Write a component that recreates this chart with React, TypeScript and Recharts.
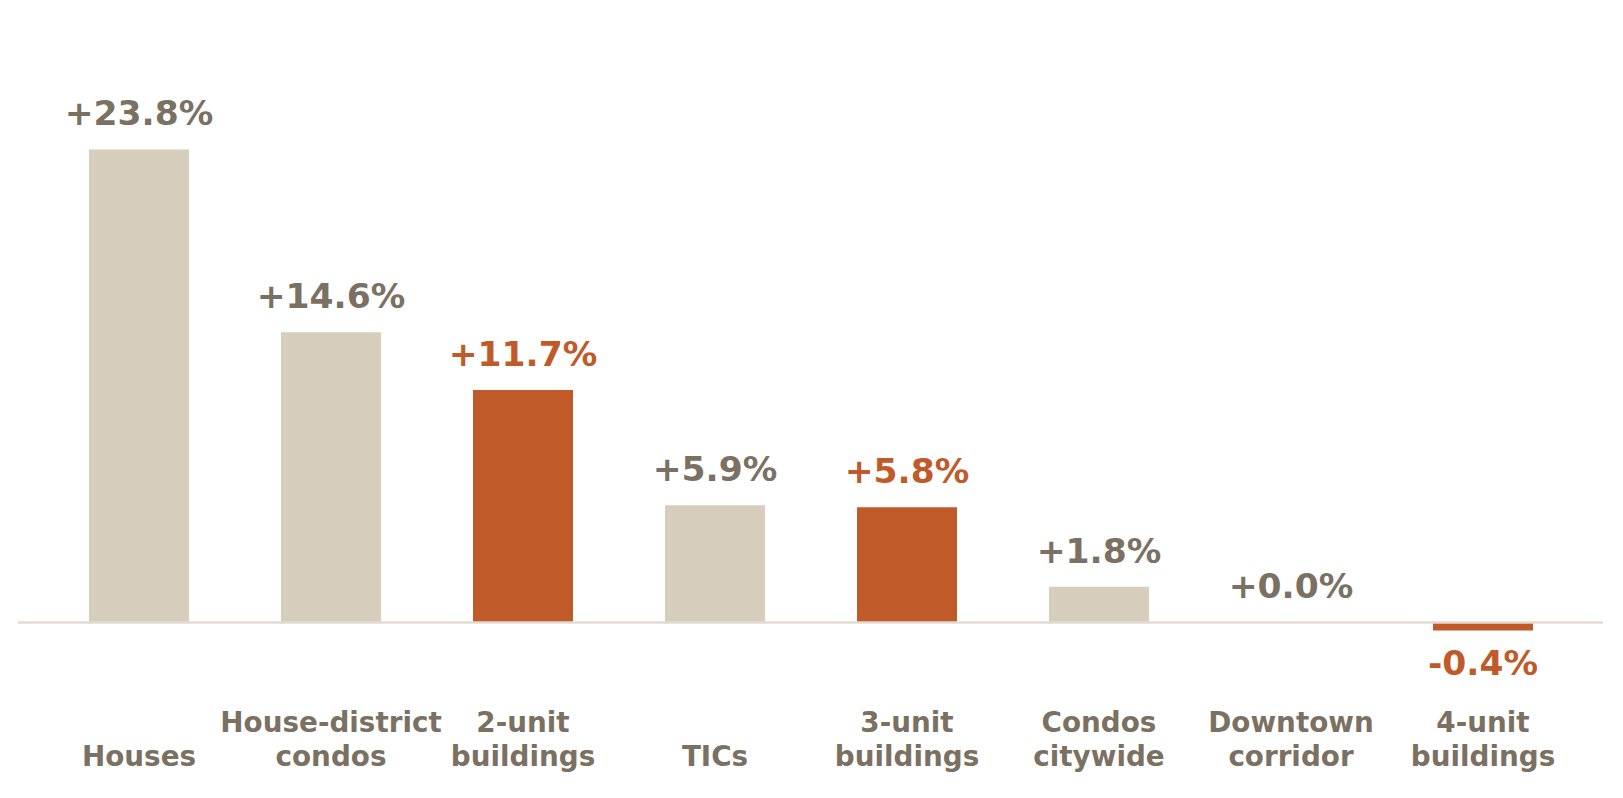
import React from "react";
import { BarChart, Bar, XAxis, YAxis, Cell, LabelList, ReferenceLine } from "recharts";

const categories = [
  "Houses",
  "House-district\ncondos",
  "2-unit\nbuildings",
  "TICs",
  "3-unit\nbuildings",
  "Condos\ncitywide",
  "Downtown\ncorridor",
  "4-unit\nbuildings",
];
const changes = [23.8, 14.6, 11.7, 5.9, 5.8, 1.8, 0.0, -0.4];
const highlighted = [false, false, true, false, true, false, false, true];
const yDomain = [-4, 28];

const BEIGE = "#d6cdbc";
const ORANGE = "#c05a28";
const GRAY = "#7a7162";
const LINE = "#e3dbd0";
const FONT = "'DejaVu Sans', sans-serif";

const data = categories.map((c, i) => ({
  name: c,
  value: changes[i],
  hi: highlighted[i],
}));

const fmt = (v: number) => (v >= 0 ? `+${v.toFixed(1)}%` : `${v.toFixed(1)}%`);

const ValueLabel = (props: any) => {
  const { x, y, width, height, value } = props;
  const v = Number(value);
  const idx = changes.indexOf(v);
  const top = Math.min(y, y + height);
  const bottom = Math.max(y, y + height);
  const cx = x + width / 2;
  const by = v >= 0 ? top - 24 : bottom + 45;
  return (
    <text
      x={cx}
      y={by}
      textAnchor="middle"
      fill={idx >= 0 && highlighted[idx] ? ORANGE : GRAY}
      fontFamily={FONT}
      fontWeight="bold"
      fontSize={34.5}
    >
      {fmt(v)}
    </text>
  );
};

const CategoryTick = (props: any) => {
  const { x, y, payload } = props;
  const lines = String(payload.value).split("\n");
  const n = lines.length;
  return (
    <g>
      {lines.map((ln, i) => (
        <text
          key={i}
          x={x}
          y={y + 64 - (n - 1 - i) * 34}
          textAnchor="middle"
          fill={GRAY}
          fontFamily={FONT}
          fontWeight="bold"
          fontSize={27.8}
        >
          {ln}
        </text>
      ))}
    </g>
  );
};

export default function App() {
  return (
    <div style={{ width: 1607, height: 782, background: "#fff" }}>
      <BarChart
        width={1607}
        height={782}
        data={data}
        margin={{ top: 58, right: 12, bottom: 0, left: 10 }}
      >
        <XAxis
          dataKey="name"
          axisLine={false}
          tickLine={false}
          tickSize={0}
          tickMargin={0}
          height={88}
          interval={0}
          padding={{ left: 25, right: 24 }}
          tick={<CategoryTick />}
        />
        <YAxis hide domain={yDomain} type="number" allowDataOverflow />
        <ReferenceLine y={0} stroke={LINE} strokeWidth={2.5} />
        <Bar dataKey="value" barSize={100} minPointSize={0.01} isAnimationActive={false}>
          {data.map((d, i) => (
            <Cell key={i} fill={d.hi ? ORANGE : BEIGE} />
          ))}
          <LabelList dataKey="value" content={<ValueLabel />} />
        </Bar>
      </BarChart>
    </div>
  );
}
